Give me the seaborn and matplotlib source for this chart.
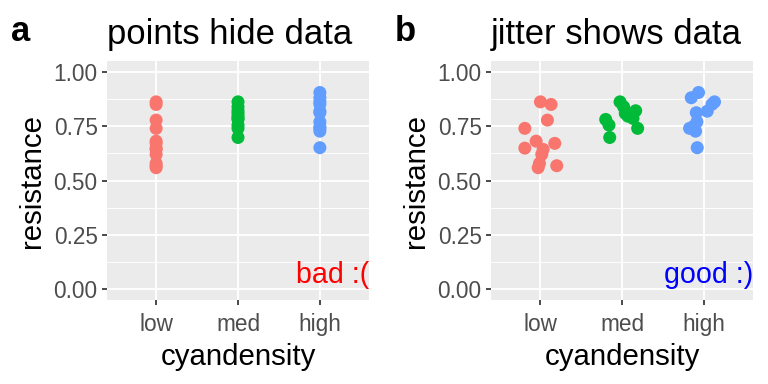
import numpy as np
import pandas as pd
import matplotlib
matplotlib.use("Agg")
import matplotlib.pyplot as plt
import seaborn as sns

# ------------------------------------------------------------------
# data
# ------------------------------------------------------------------
levels = ["low", "med", "high"]

low_res = [0.862, 0.850, 0.778, 0.740, 0.681, 0.671, 0.649, 0.643, 0.620, 0.579, 0.559, 0.568]
low_jit = [0.004, 0.134, 0.089, -0.187, -0.049, 0.179, -0.187, 0.037, 0.020, -0.008, -0.024, 0.203]

med_res = [0.862, 0.839, 0.809, 0.796, 0.786, 0.821, 0.740, 0.781, 0.755, 0.698]
med_jit = [-0.024, 0.020, 0.040, 0.073, 0.134, 0.167, 0.191, -0.199, -0.159, -0.150]

high_res = [0.905, 0.881, 0.862, 0.851, 0.819, 0.812, 0.770, 0.747, 0.740, 0.727, 0.651]
high_jit = [-0.065, -0.154, 0.130, 0.100, 0.041, -0.093, -0.085, -0.134, -0.175, -0.102, -0.081]

palette = {"low": "#F8766D", "med": "#00BA38", "high": "#619CFF"}

df = pd.concat([
    pd.DataFrame({"cyandensity": "low", "resistance": low_res, "jitter": low_jit}),
    pd.DataFrame({"cyandensity": "med", "resistance": med_res, "jitter": med_jit}),
    pd.DataFrame({"cyandensity": "high", "resistance": high_res, "jitter": high_jit}),
], ignore_index=True)
df["code"] = df["cyandensity"].map({l: i for i, l in enumerate(levels)})

plt.rcParams["font.family"] = ["Liberation Sans", "DejaVu Sans"]

fig = plt.figure(figsize=(8, 4), dpi=96)

panels = [
    ("a", "points hide data", False, "bad :(", "red", 107),
    ("b", "jitter shows data", True, "good :)", "blue", 491),
]

for letter, title, use_jitter, note, note_col, left_px in panels:
    ax = fig.add_axes([left_px / 768, 84 / 384, 262 / 768, 239 / 384])
    ax.set_facecolor("#EBEBEB")
    for s in ax.spines.values():
        s.set_visible(False)

    d = df.copy()
    d["xpos"] = d["code"] + (d["jitter"] if use_jitter else 0.0)
    sns.scatterplot(data=d, x="xpos", y="resistance", hue="cyandensity",
                    palette=palette, s=95, edgecolor="none", alpha=1,
                    legend=False, ax=ax, zorder=3)

    ax.set_xlim(-0.6, 2.6)
    ax.set_ylim(-0.05, 1.05)
    ax.set_xticks(range(3))
    ax.set_xticklabels(levels)
    ax.set_yticks([0, 0.25, 0.5, 0.75, 1.0])
    ax.set_yticklabels(["0.00", "0.25", "0.50", "0.75", "1.00"])
    ax.set_yticks([0.125, 0.375, 0.625, 0.875], minor=True)

    ax.grid(True, which="major", color="white", linewidth=1.4, zorder=0)
    ax.grid(True, which="minor", axis="y", color="white", linewidth=0.7, zorder=0)
    ax.set_axisbelow(True)

    ax.tick_params(which="major", length=4, width=1.3, color="#333333",
                   labelcolor="#4D4D4D", labelsize=17, pad=3)
    ax.tick_params(axis="x", which="major", pad=6)
    ax.tick_params(which="minor", length=0)

    ax.set_xlabel("cyandensity", fontsize=22, color="black", labelpad=5)
    ax.set_ylabel("resistance", fontsize=22, color="black", labelpad=6)
    ax.set_title(title, loc="left", fontsize=26, pad=13)

    ax.text(2.6, 0.03, note, color=note_col, ha="right", va="baseline", fontsize=21.5)

    fig.text((left_px - 96) / 768, 1 - 41 / 384, letter, fontsize=26,
             fontweight="bold", va="baseline", ha="left")

fig.savefig("out.png", dpi=96)
